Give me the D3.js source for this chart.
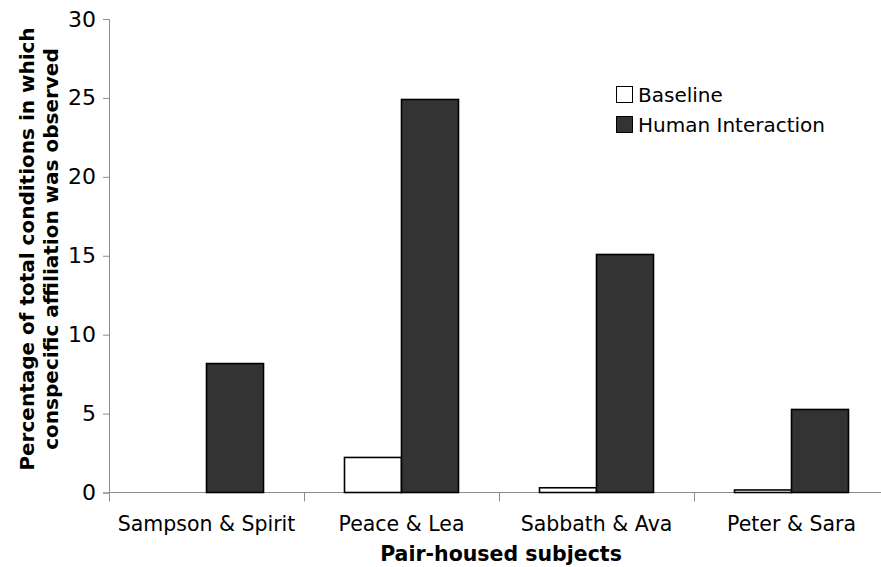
<!DOCTYPE html>
<html>
<head>
<meta charset="utf-8">
<script src="https://cdn.jsdelivr.net/npm/d3@7/dist/d3.min.js"></script>
<style>
  html, body { margin: 0; padding: 0; background: #fff; }
  svg { display: block; }
  text { font-family: "DejaVu Sans", Verdana, sans-serif; fill: #000; }
</style>
</head>
<body>
<svg id="chart" width="881" height="567"></svg>
<script>
const categories = ["Sampson & Spirit", "Peace & Lea", "Sabbath & Ava", "Peter & Sara"];
const seriesNames = ["Baseline", "Human Interaction"];
const baselineValues = [0, 2.22, 0.3, 0.16];
const humanValues = [8.17, 24.9, 15.08, 5.26];
const yTicks = [0, 5, 10, 15, 20, 25, 30];
const seriesColors = ["#ffffff", "#333333"];
const yTitleLines = ["Percentage of total conditions in which", "conspecific affiliation was observed"];
const xTitle = "Pair-housed subjects";

const svg = d3.select("#chart");
const W = 881, H = 567;
const mLeft = 109, mRight = 889, mTop = 19, mBottom = 492.5;

const x = d3.scaleBand().domain(categories).range([mLeft, mRight]).padding(0);
const xs = d3.scaleBand().domain(seriesNames).range([40.5, x.bandwidth() - 40.5]).padding(0);
const y = d3.scaleLinear().domain([0, 30]).range([mBottom, mTop]);

const axisColor = "#8c8c8c";

// Y axis
const yAxis = svg.append("g")
  .attr("transform", `translate(${mLeft},0)`)
  .call(d3.axisLeft(y).tickValues(yTicks).tickSize(6).tickSizeOuter(6).tickPadding(7));
yAxis.select(".domain").attr("stroke", axisColor);
yAxis.selectAll(".tick line").attr("stroke", axisColor);
yAxis.selectAll(".tick text")
  .style("font-family", '"DejaVu Sans", Verdana, sans-serif')
  .style("font-size", "22px").attr("fill", "#000");

// X axis baseline
svg.append("line")
  .attr("x1", mLeft).attr("x2", W)
  .attr("y1", y(0)).attr("y2", y(0))
  .attr("stroke", axisColor).attr("stroke-width", 1);

// boundary ticks
const boundaries = categories.map(c => x(c)).concat([x.range()[1]]);
svg.append("g").selectAll("line").data(boundaries).join("line")
  .attr("x1", d => d + 0.5).attr("x2", d => d + 0.5)
  .attr("y1", y(0)).attr("y2", y(0) + 9)
  .attr("stroke", axisColor);

// category labels
svg.append("g").selectAll("text").data(categories).join("text")
  .attr("x", d => x(d) + x.bandwidth() / 2)
  .attr("y", 531)
  .attr("text-anchor", "middle")
  .style("font-size", "20.5px")
  .text(d => d);

// bars
const rows = categories.map((c, i) => ({ cat: c, vals: [baselineValues[i], humanValues[i]] }));
const groups = svg.append("g").selectAll("g").data(rows).join("g")
  .attr("transform", d => `translate(${x(d.cat)},0)`);
groups.selectAll("rect")
  .data(d => d.vals.map((v, j) => ({ s: seriesNames[j], v, j })).filter(e => e.v > 0))
  .join("rect")
  .attr("x", d => xs(d.s))
  .attr("width", xs.bandwidth())
  .attr("y", d => y(d.v))
  .attr("height", d => y(0) - y(d.v))
  .attr("fill", d => seriesColors[d.j])
  .attr("stroke", "#000")
  .attr("stroke-width", 1.6);

// legend
const legend = svg.append("g").attr("transform", "translate(616,86)");
seriesNames.forEach((name, i) => {
  const g = legend.append("g").attr("transform", `translate(0,${i * 30})`);
  g.append("rect").attr("x", 0.5).attr("y", 0.5).attr("width", 16).attr("height", 16)
    .attr("fill", seriesColors[i]).attr("stroke", "#000").attr("stroke-width", 1);
  g.append("text").attr("x", 22).attr("y", 16).style("font-size", "20px").text(name);
});

// y title
const yt = svg.append("text")
  .attr("transform", "translate(0,249) rotate(-90)")
  .attr("text-anchor", "middle")
  .style("font-size", "20px").style("font-weight", "bold");
yTitleLines.forEach((l, i) => {
  yt.append("tspan").attr("x", 0).attr("y", 34 + i * 24).text(l);
});

// x title
svg.append("text")
  .attr("x", 501).attr("y", 561)
  .attr("text-anchor", "middle")
  .style("font-size", "20.5px").style("font-weight", "bold")
  .text(xTitle);
</script>
</body>
</html>
